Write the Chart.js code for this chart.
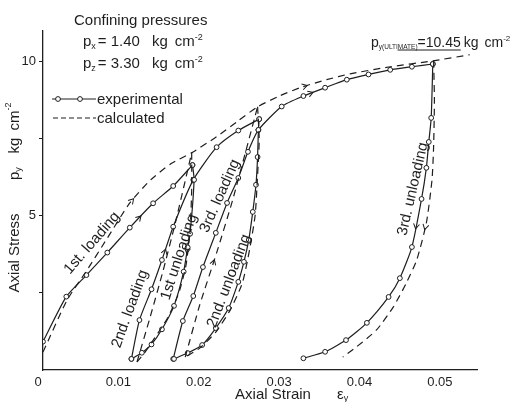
<!DOCTYPE html>
<html><head><meta charset="utf-8">
<script src="https://cdn.jsdelivr.net/npm/chart.js@4/dist/chart.umd.min.js"></script>
<style>html,body{margin:0;padding:0;background:#fff}#wrap{width:518px;height:402px;position:relative}canvas{display:block}</style>
</head><body><div id="wrap"><canvas id="c" width="518" height="402"></canvas></div>
<script>
// ---- tick labels ----
const xTicks = [0, 0.01, 0.02, 0.03, 0.04, 0.05];
const xTickLabels = ['0', '0.01', '0.02', '0.03', '0.04', '0.05'];
const yTicks = [2.5, 5, 7.5, 10];
const yTickLabels = ['', '5', '', '10'];

// ---- experimental (axial strain, axial stress kg/cm2) ----
const exp1LoadX = [0, 0.0029, 0.0054, 0.0080, 0.0108, 0.0137, 0.0162, 0.0186];
const exp1LoadY = [0.92, 2.38, 3.08, 3.81, 4.62, 5.41, 5.97, 6.65];
const exp1UnloadX = [0.0186, 0.0188, 0.0183, 0.0180, 0.0175, 0.0163, 0.0148, 0.0135, 0.0123, 0.0110];
const exp1UnloadY = [6.65, 6.17, 4.42, 3.98, 3.19, 2.08, 1.32, 0.83, 0.56, 0.36];
const exp2LoadX = [0.0110, 0.0120, 0.0135, 0.0148, 0.0162, 0.0187, 0.0216, 0.0243, 0.0269];
const exp2LoadY = [0.36, 1.62, 2.62, 3.57, 4.65, 6.17, 7.23, 7.77, 8.14];
const exp2UnloadX = [0.0269, 0.0268, 0.0267, 0.0265, 0.0261, 0.0256, 0.0250, 0.0243, 0.0231, 0.0215, 0.0198, 0.0180, 0.0163];
const exp2UnloadY = [8.14, 7.79, 6.91, 6.01, 5.13, 4.22, 3.51, 2.86, 2.01, 1.36, 0.81, 0.55, 0.36];
const exp3LoadX = [0.0162, 0.0174, 0.0187, 0.0199, 0.0215, 0.0229, 0.0243, 0.0255, 0.0268, 0.0297, 0.0324, 0.0351, 0.0378, 0.0405, 0.0432, 0.0459, 0.0485];
const exp3LoadY = [0.36, 1.59, 2.40, 3.34, 4.45, 5.42, 6.23, 7.08, 7.79, 8.55, 8.89, 9.16, 9.42, 9.59, 9.74, 9.84, 9.93];
const exp3UnloadX = [0.0485, 0.0483, 0.0480, 0.0477, 0.0471, 0.0459, 0.0444, 0.0430, 0.0403, 0.0377, 0.0351, 0.0324];
const exp3UnloadY = [9.93, 8.18, 7.40, 6.56, 5.55, 3.99, 2.98, 2.37, 1.53, 0.97, 0.59, 0.38];

// ---- calculated ----
const calcLoadX = [0, 0.0030, 0.0054, 0.0080, 0.0108, 0.0134, 0.0159, 0.0185, 0.0216, 0.0241, 0.0267, 0.0295, 0.0323, 0.0353, 0.0382, 0.0432, 0.0485, 0.0531];
const calcLoadY = [0.58, 2.27, 3.21, 4.28, 5.42, 6.17, 6.69, 7.05, 7.57, 8.05, 8.54, 8.90, 9.19, 9.42, 9.61, 9.84, 10.03, 10.23];
const calc1UnloadX = [0.0185, 0.0185, 0.0183, 0.0178, 0.0169, 0.0155, 0.0139, 0.0127, 0.0117];
const calc1UnloadY = [7.05, 5.84, 4.55, 3.41, 2.50, 1.69, 1.04, 0.58, 0.26];
const calc2LoadX = [0.0117, 0.0133, 0.0149, 0.0165, 0.0185];
const calc2LoadY = [0.26, 1.69, 3.18, 4.81, 7.05];
const calc2UnloadX = [0.0267, 0.0269, 0.0267, 0.0264, 0.0257, 0.0248, 0.0233, 0.0215, 0.0195, 0.0177];
const calc2UnloadY = [8.54, 7.47, 6.33, 5.03, 3.90, 2.82, 1.95, 1.23, 0.71, 0.42];
const calc3LoadX = [0.0177, 0.0195, 0.0216, 0.0236, 0.0267];
const calc3LoadY = [0.42, 2.11, 3.80, 5.52, 8.54];
const calc3UnloadX = [0.0486, 0.0487, 0.0486, 0.0484, 0.0477, 0.0465, 0.0452, 0.0436, 0.0415, 0.0390, 0.0373];
const calc3UnloadY = [10.03, 8.77, 7.24, 6.17, 4.77, 3.57, 2.82, 2.05, 1.30, 0.75, 0.42];

const INK = '#1e1e1e';
const FONT = '"Liberation Sans", Arial, sans-serif';
const pts = (xs, ys) => xs.map((x, i) => ({x, y: ys[i]}));

function expSet(xs, ys) {
  return {data: pts(xs, ys), borderColor: INK, borderWidth: 1.2, tension: 0.2,
    pointRadius: 2.4, pointBackgroundColor: '#fff', pointBorderColor: INK, pointBorderWidth: 1, showLine: true, fill: false};
}
function calcSet(xs, ys) {
  return {data: pts(xs, ys), borderColor: INK, borderWidth: 1.2, borderDash: [7, 5], tension: 0.2,
    pointRadius: 0, showLine: true, fill: false};
}

const datasets = [
  calcSet(calcLoadX, calcLoadY), calcSet(calc1UnloadX, calc1UnloadY), calcSet(calc2LoadX, calc2LoadY),
  calcSet(calc2UnloadX, calc2UnloadY), calcSet(calc3LoadX, calc3LoadY), calcSet(calc3UnloadX, calc3UnloadY),
  expSet(exp1LoadX, exp1LoadY), expSet(exp1UnloadX, exp1UnloadY), expSet(exp2LoadX, exp2LoadY),
  expSet(exp2UnloadX, exp2UnloadY), expSet(exp3LoadX, exp3LoadY), expSet(exp3UnloadX, exp3UnloadY)
];

// direction arrows: [dataset index, segment index, fraction along segment]
const arrowMarks = [[0, 4, 0.15], [0, 12, 0.15], [8, 3, 0.3], [7, 3, 0.2], [4, 1, 0.85], [10, 10, 0.4], [11, 4, 0.6], [5, 4, 0.15], [6, 4, 0.45]];

function rich(ctx, x, y, parts, base) {
  let cx = x;
  for (const p of parts) {
    const size = p.size || base;
    ctx.font = size + 'px ' + FONT;
    ctx.fillText(p.t, cx, y + (p.dy || 0));
    cx += ctx.measureText(p.t).width + (p.gap || 0);
  }
  return cx;
}
function richWidth(ctx, parts, base) {
  let w = 0;
  for (const p of parts) { ctx.font = (p.size || base) + 'px ' + FONT; w += ctx.measureText(p.t).width + (p.gap || 0); }
  return w;
}
function rotText(ctx, txt, cx, cy, deg, size) {
  ctx.save();
  ctx.translate(cx, cy); ctx.rotate(deg * Math.PI / 180);
  ctx.font = size + 'px ' + FONT; ctx.textAlign = 'center'; ctx.textBaseline = 'middle';
  ctx.fillText(txt, 0, 0);
  ctx.restore();
}

const annot = {
  id: 'annot',
  afterDraw(chart) {
    const ctx = chart.ctx;
    const xs = chart.scales.x, ys = chart.scales.y;
    ctx.save();
    ctx.fillStyle = INK; ctx.strokeStyle = INK;
    ctx.textBaseline = 'alphabetic'; ctx.textAlign = 'left';

    // arrows along curves
    ctx.lineWidth = 1;
    for (const [d, s, f] of arrowMarks) {
      const data = chart.data.datasets[d].data;
      const a = data[s], b = data[s + 1];
      const ax = xs.getPixelForValue(a.x), ay = ys.getPixelForValue(a.y);
      const bx = xs.getPixelForValue(b.x), by = ys.getPixelForValue(b.y);
      const px = ax + (bx - ax) * f, py = ay + (by - ay) * f;
      const ang = Math.atan2(by - ay, bx - ax);
      ctx.save(); ctx.translate(px, py); ctx.rotate(ang);
      ctx.beginPath(); ctx.moveTo(-4, -3); ctx.lineTo(1, 0); ctx.lineTo(-4, 3); ctx.stroke();
      ctx.restore();
    }

    // confining pressures
    ctx.font = '15px ' + FONT;
    ctx.fillText('Confining pressures', 74, 25);
    rich(ctx, 83, 46, [{t: 'p'}, {t: 'x', size: 9, dy: 3, gap: 2}, {t: '= 1.40', gap: 12}, {t: 'kg', gap: 7}, {t: 'cm'}, {t: '-2', size: 9, dy: -6}], 15);
    rich(ctx, 83, 68, [{t: 'p'}, {t: 'z', size: 9, dy: 3, gap: 2}, {t: '= 3.30', gap: 12}, {t: 'kg', gap: 7}, {t: 'cm'}, {t: '-2', size: 9, dy: -6}], 15);
    // ultimate
    const ux = 371;
    let e = rich(ctx, ux, 47, [{t: 'p'}, {t: 'y(ULTIMATE)', size: 6.5, dy: 2}], 14);
    const e2 = rich(ctx, e, 47, [{t: '=10.45'}], 14);
    ctx.lineWidth = 1;
    ctx.beginPath(); ctx.moveTo(e - 20, 50); ctx.lineTo(e2, 50); ctx.stroke();
    rich(ctx, e2 + 3, 47, [{t: 'kg', gap: 6}, {t: 'cm'}, {t: '-2', size: 8, dy: -6}], 14);

    // legend
    ctx.lineWidth = 1.2;
    ctx.beginPath(); ctx.moveTo(52, 99); ctx.lineTo(96, 99); ctx.stroke();
    for (const cx of [58, 80]) {
      ctx.beginPath(); ctx.arc(cx, 99, 2.4, 0, Math.PI * 2); ctx.fillStyle = '#fff'; ctx.fill(); ctx.lineWidth = 1; ctx.stroke();
    }
    ctx.fillStyle = INK;
    ctx.setLineDash([5, 3]); ctx.lineWidth = 1.2;
    ctx.beginPath(); ctx.moveTo(53, 118); ctx.lineTo(96, 118); ctx.stroke();
    ctx.setLineDash([]);
    ctx.font = '15px ' + FONT;
    ctx.fillText('experimental', 97, 104);
    ctx.fillText('calculated', 97, 123);

    // branch labels
    rotText(ctx, '1st. loading', 92, 243, -49, 15);
    rotText(ctx, '2nd. loading', 130, 309, -70, 15);
    rotText(ctx, '1st unloading', 179, 257, -72, 15);
    rotText(ctx, '3rd. loading', 220, 196, -66, 15);
    rotText(ctx, '2nd. unloading', 229, 281, -69, 15);
    rotText(ctx, '3rd. unloading', 413, 189, -77, 15);

    // axis titles
    ctx.textBaseline = 'middle';
    ctx.font = '15px ' + FONT;
    const tw = ctx.measureText('Axial Strain').width;
    ctx.fillText('Axial Strain', 273 - tw / 2, 395);
    rich(ctx, 337, 395, [{t: '\u03b5'}, {t: 'y', size: 9, dy: 4}], 15);

    ctx.save();
    ctx.translate(15, 0); ctx.rotate(-Math.PI / 2);
    ctx.font = '15px ' + FONT;
    const aw = ctx.measureText('Axial Stress').width;
    ctx.fillText('Axial Stress', -253 - aw / 2, 0);
    rich(ctx, -180, 0, [{t: 'p'}, {t: 'y', size: 9, dy: 4}], 15);
    const kparts = [{t: 'kg', gap: 7}, {t: 'cm'}, {t: '-2', size: 9, dy: -6}];
    rich(ctx, -128 - richWidth(ctx, kparts, 15) / 2, 0, kparts, 15);
    ctx.restore();

    ctx.restore();
  }
};

new Chart(document.getElementById('c'), {
  type: 'line',
  data: {datasets},
  plugins: [annot],
  options: {
    responsive: false, animation: false, devicePixelRatio: 1,
    layout: {padding: {top: 31, right: 41, left: 0, bottom: 0}},
    plugins: {legend: {display: false}, tooltip: {enabled: false}},
    scales: {
      x: {
        type: 'linear', min: 0, max: 0.054,
        afterBuildTicks: s => { s.ticks = xTicks.map(v => ({value: v})); },
        afterFit: s => { s.height = 32; },
        grid: {display: false, drawTicks: false},
        border: {display: true, color: INK, width: 1.3},
        ticks: {callback: (v, i) => xTickLabels[i], font: {family: FONT, size: 13}, color: INK,
          padding: 5, maxRotation: 0, autoSkip: false, labelOffset: -5}
      },
      y: {
        type: 'linear', min: 0, max: 11,
        afterBuildTicks: s => { s.ticks = yTicks.map(v => ({value: v})); },
        afterFit: s => { s.width = 43; },
        grid: {drawOnChartArea: false, drawTicks: true, tickLength: 4, color: INK},
        border: {display: true, color: INK, width: 1.3},
        ticks: {callback: (v, i) => yTickLabels[i], font: {family: FONT, size: 13}, color: INK, padding: 3, autoSkip: false}
      }
    }
  }
});
</script>
</body></html>
